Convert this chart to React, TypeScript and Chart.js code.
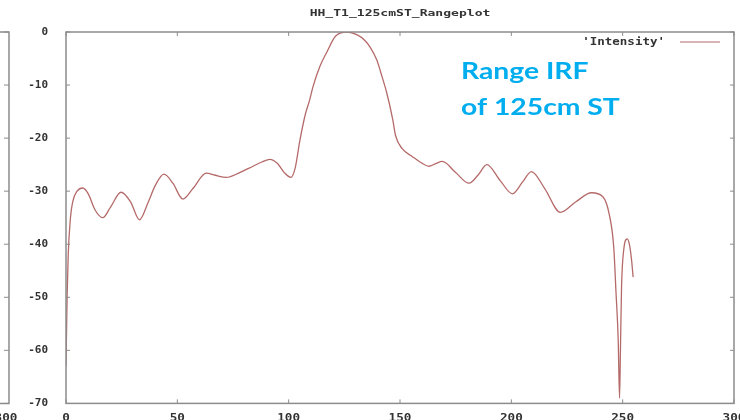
import React, { useEffect, useRef } from "react";
import { Chart, registerables } from "chart.js";

Chart.register(...registerables);

const chartTitle = "HH_T1_125cmST_Rangeplot";
const seriesLabel = "'Intensity'";
const noteLines = ["Range IRF", "of 125cm ST"];

const rangeX = [
  0, 0.5, 1, 2, 3, 5, 7.5, 10, 13, 16.5, 20, 24.7, 29, 33, 37, 40, 44, 48, 52.5, 57,
  63, 67, 72, 78, 84, 88, 91.5, 95, 98, 101, 103, 105, 107.5, 109.5, 111, 114, 117, 121, 126, 131,
  134, 136.5, 139.5, 142, 144, 146.7, 148, 151, 155.6, 159, 163, 166, 169, 175, 181, 185, 189, 195, 200.5, 205,
  209, 215, 222, 229, 236, 241, 244, 246, 247, 248, 248.6, 249, 249.5, 250.5, 252, 253, 254, 254.7,
];
const intensity = [
  -63, -50, -42, -35, -32, -30, -29.4, -30.5, -33.5, -35, -33, -30.2, -32, -35.4, -32, -29, -26.8, -28.5, -31.5, -29.5,
  -26.6, -27, -27.4, -26.5, -25.3, -24.5, -24, -24.8, -26.5, -27.4, -25.5, -20.5, -15.5, -12.7, -10.2, -6.5, -3.9, -0.8, 0, -0.6,
  -1.5, -2.8, -5.2, -8.5, -11.4, -16.4, -19.5, -22, -23.5, -24.5, -25.3, -24.8, -24.4, -26.5, -28.5, -27, -25, -28, -30.5, -28.3,
  -26.3, -29.5, -34, -32, -30.3, -31, -34.4, -40.6, -49, -58, -69, -60, -48, -41, -39, -40, -43, -46.2,
];
const xTicks = [0, 50, 100, 150, 200, 250, 300];
const yTicks = [0, -10, -20, -30, -40, -50, -60, -70];

const lineColor = "#b56a6a";
const frameColor = "#8c8c8c";
const monoFont = "'DejaVu Sans Mono', monospace";

function stretchedText(ctx: CanvasRenderingContext2D, text: string, x: number, y: number, align: "left" | "center" | "right", sx: number) {
  ctx.save();
  ctx.translate(x, y);
  ctx.scale(sx, 1);
  ctx.textAlign = align;
  ctx.fillText(text, 0, 0);
  ctx.restore();
}

const decorPlugin = {
  id: "decor",
  afterDraw(chart: any) {
    const { ctx, chartArea } = chart;
    const { left, right, top, bottom } = chartArea;
    const xs = chart.scales.x;
    const ys = chart.scales.y;
    ctx.save();
    // frame
    ctx.strokeStyle = frameColor;
    ctx.lineWidth = 1.5;
    ctx.strokeRect(left, top, right - left, bottom - top);
    // inward ticks
    ctx.lineWidth = 1;
    ctx.beginPath();
    xTicks.forEach((v) => {
      const px = xs.getPixelForValue(v);
      ctx.moveTo(px, bottom);
      ctx.lineTo(px, bottom - 4);
      ctx.moveTo(px, top);
      ctx.lineTo(px, top + 4);
    });
    yTicks.forEach((v) => {
      const py = ys.getPixelForValue(v);
      ctx.moveTo(left, py);
      ctx.lineTo(left + 4, py);
      ctx.moveTo(right, py);
      ctx.lineTo(right - 4, py);
    });
    ctx.stroke();

    // x tick labels (cut by the bottom edge, as in the reference)
    ctx.fillStyle = "#333";
    ctx.font = `bold 11px ${monoFont}`;
    ctx.textBaseline = "top";
    xTicks.forEach((v) => {
      stretchedText(ctx, String(v), xs.getPixelForValue(v), bottom + 9, "center", 1.15);
    });

    // neighbouring panel edge on the left
    ctx.lineWidth = 1.5;
    ctx.beginPath();
    ctx.moveTo(0, top);
    ctx.lineTo(9, top);
    ctx.lineTo(9, bottom);
    ctx.lineTo(0, bottom);
    ctx.stroke();
    ctx.lineWidth = 1;
    ctx.beginPath();
    yTicks.forEach((v) => {
      const py = ys.getPixelForValue(v);
      ctx.moveTo(9, py);
      ctx.lineTo(4, py);
    });
    ctx.stroke();
    stretchedText(ctx, "300", 6, bottom + 9, "center", 1.15);

    // title
    ctx.font = `bold 9px ${monoFont}`;
    ctx.textBaseline = "middle";
    stretchedText(ctx, chartTitle, 400, 14, "center", 1.45);

    // legend
    ctx.font = `bold 10px ${monoFont}`;
    stretchedText(ctx, seriesLabel, 665, 42, "right", 1.25);
    ctx.strokeStyle = lineColor;
    ctx.lineWidth = 1.2;
    ctx.beginPath();
    ctx.moveTo(680, 42);
    ctx.lineTo(720, 42);
    ctx.stroke();

    // annotation
    ctx.fillStyle = "#00aeef";
    ctx.font = "bold 23px Lato, 'Open Sans', sans-serif";
    ctx.textBaseline = "alphabetic";
    stretchedText(ctx, noteLines[0], 461, 79, "left", 1.23);
    stretchedText(ctx, noteLines[1], 461, 115, "left", 1.23);
    ctx.restore();
  },
};

export default function App() {
  const ref = useRef<HTMLCanvasElement | null>(null);
  useEffect(() => {
    if (!ref.current) return;
    const chart = new Chart(ref.current, {
      type: "line",
      data: {
        datasets: [
          {
            label: seriesLabel,
            data: rangeX.map((x, i) => ({ x, y: intensity[i] })),
            borderColor: lineColor,
            borderWidth: 1.3,
            pointRadius: 0,
            cubicInterpolationMode: "monotone",
            fill: false,
          },
        ],
      },
      options: {
        responsive: false,
        animation: false,
        layout: { padding: { left: 0, right: 6, top: 32, bottom: 0 } },
        plugins: { legend: { display: false }, tooltip: { enabled: false }, title: { display: false } },
        scales: {
          x: {
            type: "linear",
            min: 0,
            max: 300,
            afterFit: (s: any) => {
              s.height = 12;
            },
            afterBuildTicks: (s: any) => {
              s.ticks = xTicks.map((v) => ({ value: v }));
            },
            grid: { display: false },
            border: { display: false },
            ticks: { display: false },
          },
          y: {
            type: "linear",
            min: -70,
            max: 0,
            afterFit: (s: any) => {
              s.width = 66;
            },
            afterBuildTicks: (s: any) => {
              s.ticks = yTicks.map((v) => ({ value: v }));
            },
            grid: { display: false },
            border: { display: false },
            ticks: {
              padding: 10,
              color: "#333",
              font: { family: monoFont, weight: "bold", size: 11 },
            },
          },
        },
      },
      plugins: [decorPlugin],
    } as any);
    return () => chart.destroy();
  }, []);
  return (
    <div style={{ position: "absolute", left: 0, top: 0, width: 740, height: 420, background: "#fff" }}>
      <canvas ref={ref} width={740} height={420} />
    </div>
  );
}
